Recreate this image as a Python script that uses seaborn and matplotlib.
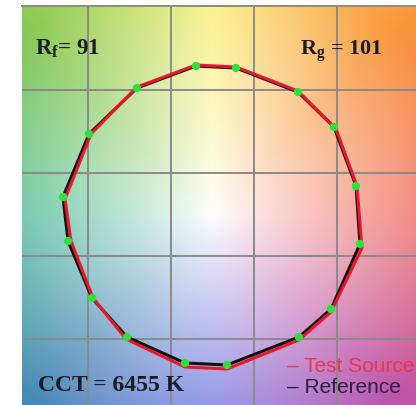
import numpy as np
import matplotlib
matplotlib.use("Agg")
import matplotlib.pyplot as plt
import seaborn as sns

# ---- data (cell units, centre of the vector graphic = 0,0) ----
ref_x = [-0.199, 0.283, 1.030, 1.464, 1.729, 1.777, 1.428, 1.042,
         0.175, -0.331, -1.030, -1.452, -1.741, -1.801, -1.488, -0.910]
ref_y = [1.789, 1.765, 1.476, 1.054, 0.343, -0.355, -1.139, -1.476,
         -1.813, -1.789, -1.476, -1.006, -0.319, 0.211, 0.970, 1.524]
test_x = [-0.199, 0.283, 1.030, 1.488, 1.741, 1.801, 1.428, 1.042,
          0.175, -0.331, -1.042, -1.440, -1.705, -1.777, -1.464, -0.910]
test_y = [1.801, 1.777, 1.488, 1.030, 0.343, -0.404, -1.175, -1.512,
          -1.861, -1.837, -1.500, -1.006, -0.319, 0.187, 0.970, 1.536]
grid_ticks = [-1.5, -0.5, 0.5, 1.5]
rf_label = r"$\mathbf{R_f}$= 91"
rg_label = r"$\mathbf{R_g}$ = 101"
cct_label = "CCT = 6455 K"
legend_labels = ["\u2013 Test Source", "\u2013 Reference"]

# hue anchors for background (angle deg, rgb)
hue_angles = [0, 45, 90, 135, 180, 225, 270, 315, 360]
hue_rgb = [(241, 115, 105), (250, 150, 60), (250, 240, 120), (135, 202, 85),
           (75, 188, 150), (72, 138, 182), (120, 122, 228), (190, 85, 170),
           (241, 115, 105)]

sns.set_theme(style="white")
plt.rcParams['mathtext.fontset'] = 'custom'
plt.rcParams['mathtext.bf'] = 'Liberation Serif:bold'
plt.rcParams['mathtext.rm'] = 'Liberation Serif:bold'

W, H = 416, 406
fig = plt.figure(figsize=(W / 100, H / 100), dpi=100)
fig.patch.set_facecolor("white")
ax = fig.add_axes([22 / W, 0, 394 / W, 399 / H])
xlim = (-2.295, 2.452)
ylim = (-2.295, 2.512)

# background hue image
gx = np.linspace(xlim[0], xlim[1], 300)
gy = np.linspace(ylim[0], ylim[1], 300)
X, Y = np.meshgrid(gx, gy)
ang = np.degrees(np.arctan2(Y, X)) % 360
rad = np.hypot(X, Y)
s = np.clip(rad / 3.1, 0, 1) ** 0.9
hr = np.array(hue_rgb, dtype=float) / 255
img = np.zeros(X.shape + (3,))
for c in range(3):
    col = np.interp(ang, hue_angles, hr[:, c])
    img[..., c] = 1 - s * (1 - col)
ax.imshow(img, extent=[xlim[0], xlim[1], ylim[0], ylim[1]], origin="lower",
          interpolation="bilinear", zorder=0, aspect="auto")

ax.set_xlim(*xlim)
ax.set_ylim(*ylim)
ax.set_xticks(grid_ticks)
ax.set_yticks(grid_ticks)
ax.set_xticklabels([])
ax.set_yticklabels([])
ax.tick_params(length=0)
ax.grid(True, color="#8a8a8a", linewidth=1.4, zorder=1)
ax.set_axisbelow(False)
for k in ["left", "right", "bottom"]:
    ax.spines[k].set_visible(False)
ax.spines["top"].set_color("#8a8a8a")
ax.spines["top"].set_linewidth(1.4)

rx = ref_x + ref_x[:1]
ry = ref_y + ref_y[:1]
tx = test_x + test_x[:1]
ty = test_y + test_y[:1]
sns.lineplot(x=rx, y=ry, sort=False, estimator=None, color="#111111",
             linewidth=2.2, ax=ax, zorder=3)
sns.lineplot(x=tx, y=ty, sort=False, estimator=None, color="#e8182a",
             linewidth=2.2, ax=ax, zorder=4)
sns.scatterplot(x=ref_x, y=ref_y, color="#2fe03a", s=36, marker="o",
                edgecolor="none", ax=ax, zorder=5)

txt_color = "#1b1b2a"
ax.text(0.033, 0.880, rf_label, transform=ax.transAxes, fontsize=16.5,
        family="Liberation Serif", fontweight="bold", color=txt_color, va="baseline")
ax.text(0.706, 0.880, rg_label, transform=ax.transAxes, fontsize=16,
        family="Liberation Serif", fontweight="bold", color=txt_color, va="baseline")
ax.text(0.041, 0.0376, cct_label, transform=ax.transAxes, fontsize=17,
        family="Liberation Serif", fontweight="bold", color=txt_color, va="baseline")
ax.text(0.673, 0.085, legend_labels[0], transform=ax.transAxes, fontsize=15,
        family="Liberation Sans", color="#e8384e", va="baseline", clip_on=False)
ax.text(0.673, 0.033, legend_labels[1], transform=ax.transAxes, fontsize=15,
        family="Liberation Sans", color="#2a1f45", va="baseline")

fig.savefig("out.png", dpi=100)
